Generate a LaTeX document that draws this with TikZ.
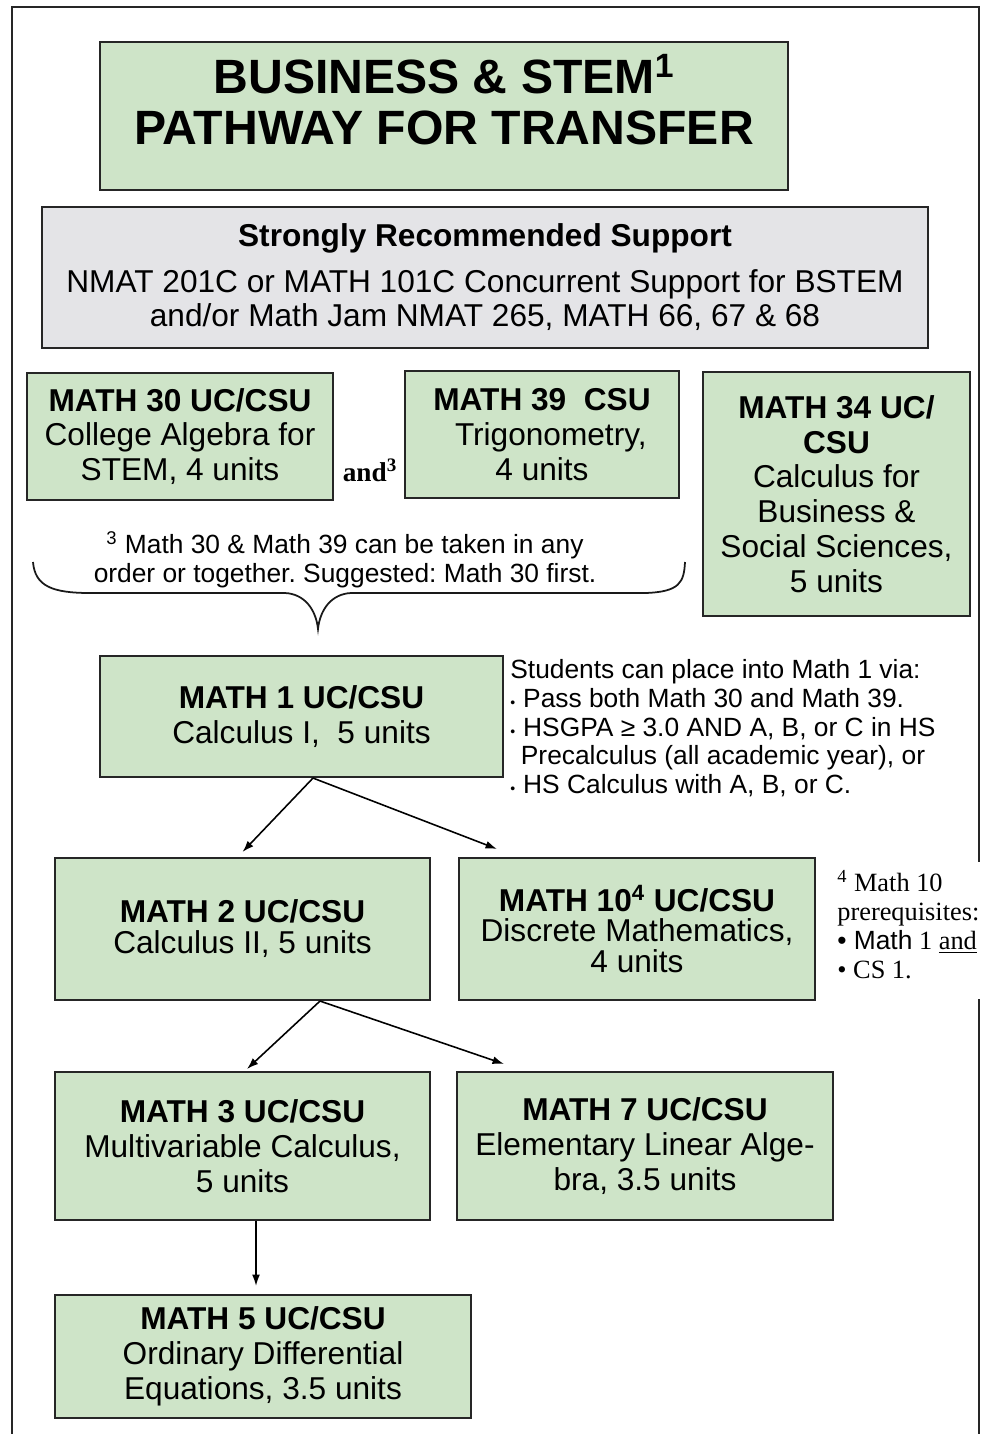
\documentclass[tikz,border=0pt]{standalone}
\usepackage{fontspec}
\setmainfont{Liberation Sans}
\newfontfamily\serifnote{Liberation Serif}
\newfontfamily\sansnote{Liberation Sans}
\usepackage{tikz}
\usetikzlibrary{shapes,arrows,arrows.meta,shadows}
\frenchspacing
\definecolor{boxgreen}{RGB}{206,228,200}
\definecolor{boxgray}{RGB}{228,228,231}
\tikzstyle{block} = [rectangle, draw=black!85, line width=1.2pt, fill=boxgreen,
    align=center, inner sep=0pt, font=\fontsize{18}{19.8}\selectfont,
    drop shadow={shadow xshift=0.6pt, shadow yshift=-0.6pt, fill=black!45}]
\tikzstyle{note} = [align=center, inner sep=0pt, font=\fontsize{15}{16.4}\selectfont]
\tikzstyle{line} = [draw, line width=0.9pt, -{Latex[length=6.5pt,width=4.5pt]}]
\newcommand{\smalldot}{{\fontsize{8}{8}\selectfont\textbullet}\hspace{0.3em}}

\begin{document}
\begin{tikzpicture}[x=0.02cm, y=-0.02cm]
    \useasboundingbox (0,0) rectangle (989,1434);
    % Frame
    \draw [line width=1.1pt, black!85] (12,1434) -- (12,7) -- (979,7) -- (979,862);
    \draw [line width=1.1pt, black!85] (979,999) -- (979,1434);
    % Place nodes
    \node [block, minimum width=13.76cm, minimum height=2.96cm] (title) at (444,116) {};
    \node [align=center, inner sep=0pt, font=\fontsize{27.4}{29}\selectfont\bfseries] (titletext) at (444,100)
        {BUSINESS \& STEM\textsuperscript{1}\\PATHWAY FOR TRANSFER};
    \node [block, fill=boxgray, minimum width=17.72cm, minimum height=2.82cm] (support) at (485,277.5)
        {\textbf{Strongly Recommended Support}\\[6pt]
         NMAT 201C or MATH 101C Concurrent Support for BSTEM\\
         and/or Math Jam NMAT 265, MATH 66, 67 \& 68};
    \node [block, minimum width=6.12cm, minimum height=2.54cm] (math30) at (180,436.5)
        {\textbf{MATH 30 UC/CSU}\\College Algebra for\\STEM, 4 units};
    \node [font=\serifnote\bfseries\fontsize{15.5}{17}\selectfont, inner sep=0pt, anchor=base] (and) at (370,481)
        {and\textsuperscript{3}};
    \node [block, minimum width=5.48cm, minimum height=2.54cm] (math39) at (542,434.5)
        {\textbf{MATH 39\ \ CSU}\\\ \ Trigonometry,\\4 units};
    \node [block, minimum width=5.34cm, minimum height=4.88cm] (math34) at (836.5,494)
        {\textbf{MATH 34 UC/}\\\textbf{CSU}\\Calculus for\\Business \&\\Social Sciences,\\5 units};
    \node [note] (order) at (345,560)
        {\textsuperscript{3} Math 30 \& Math 39 can be taken in any\\order or together. Suggested: Math 30 first.};
    \draw [line width=1pt, black!90] (33,562) .. controls (35,586) and (52,593) .. (90,593)
        -- (285,593) .. controls (305,594) and (316,610) .. (318,629)
        .. controls (320,610) and (331,594) .. (351,593)
        -- (645,593) .. controls (680,592) and (684,582) .. (685,562);
    \node [block, minimum width=8.06cm, minimum height=2.42cm] (math1) at (301.5,716.5)
        {\textbf{MATH 1 UC/CSU}\\Calculus I,\ \ 5 units};
    \node [note, align=left, anchor=north west] (placement) at (510,659)
        {Students can place into Math 1 via:\\
         \smalldot Pass both Math 30 and Math 39.\\
         \smalldot HSGPA ≥ 3.0 AND A, B, or C in HS\\
         \hspace{0.4em}Precalculus (all academic year), or\\
         \smalldot HS Calculus with A, B, or C.};
    \node [block, minimum width=7.5cm, minimum height=2.84cm, font=\fontsize{18}{17.6}\selectfont] (math2) at (242.5,929)
        {\textbf{MATH 2 UC/CSU}\\Calculus II, 5 units};
    \node [block, minimum width=7.12cm, minimum height=2.84cm, font=\fontsize{18}{17.6}\selectfont] (math10) at (637,929)
        {\textbf{MATH 10\textsuperscript{4} UC/CSU}\\Discrete Mathematics,\\4 units};
    \node [note, align=left, anchor=north west, font=\serifnote\fontsize{15}{16.4}\selectfont] (prereq) at (837,870)
        {\textsuperscript{4} Math 10\\prerequisites:\\
         {\sansnote• Math} 1 \underline{and}\\
         • CS 1.};
    \node [block, minimum width=7.5cm, minimum height=2.96cm] (math3) at (242.5,1146)
        {\textbf{MATH 3 UC/CSU}\\Multivariable Calculus,\\5 units};
    \node [block, minimum width=7.52cm, minimum height=2.96cm] (math7) at (645,1146)
        {\textbf{MATH 7 UC/CSU}\\Elementary Linear Alge-\\bra, 3.5 units};
    \node [block, minimum width=8.32cm, minimum height=2.46cm] (math5) at (263,1356.5)
        {\textbf{MATH 5 UC/CSU}\\Ordinary Differential\\Equations, 3.5 units};
    % Draw edges
    \path [line] ([xshift=0.23cm]math1.south) -- ([yshift=0.1cm]math2.north);
    \path [line] ([xshift=0.23cm]math1.south) -- ([xshift=0.78cm, yshift=0.16cm]math10.north west);
    \path [line] ([xshift=1.55cm]math2.south) -- ([xshift=0.09cm, yshift=0.04cm]math3.north);
    \path [line] ([xshift=1.55cm]math2.south) -- ([xshift=0.96cm, yshift=0.14cm]math7.north west);
    \path [line] ([xshift=0.27cm]math3.south) -- ([xshift=-0.14cm, yshift=0.16cm]math5.north);
\end{tikzpicture}
\end{document}
